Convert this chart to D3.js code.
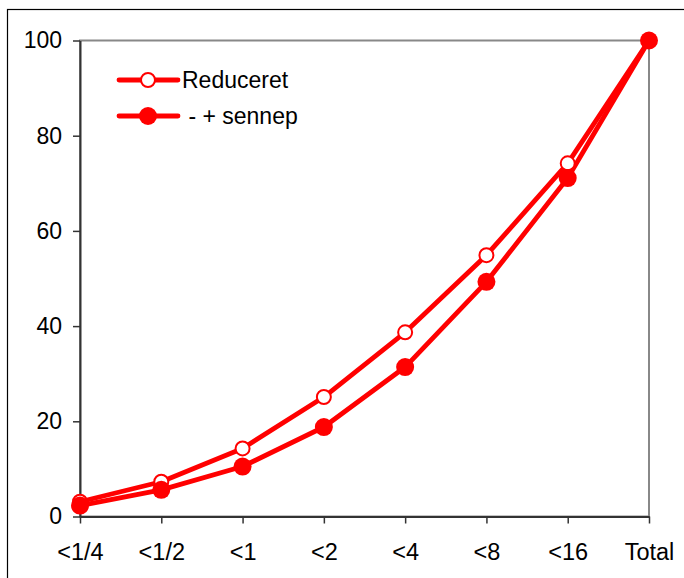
<!DOCTYPE html>
<html>
<head>
<meta charset="utf-8">
<script src="https://cdn.jsdelivr.net/npm/d3@7"></script>
<style>
  body { margin: 0; background: #fff; }
  text { font-family: "Liberation Sans", Arial, sans-serif; }
</style>
</head>
<body>
<div class="chart"></div>
<script>
const categories = ["<1/4", "<1/2", "<1", "<2", "<4", "<8", "<16", "Total"];
const reduceret = [3.1, 7.3, 14.3, 25.1, 38.7, 54.9, 74.2, 100];
const sennep = [2.3, 5.6, 10.5, 18.8, 31.4, 49.3, 71.1, 100];
const yTicks = [0, 20, 40, 60, 80, 100];

const svgWidth = 684;
const svgHeight = 578;
const plotLeft = 80, plotRight = 649, plotTop = 40.5, plotBottom = 516.5;

let svg = d3.select(".chart")
    .append("svg")
    .attr("width", svgWidth)
    .attr("height", svgHeight)

// outer frame (only top and left visible)
svg.append("rect")
    .attr("x", 7.5)
    .attr("y", 9.5)
    .attr("width", 700)
    .attr("height", 600)
    .style("fill", "none")
    .style("stroke", "#000")
    .style("stroke-width", 1.2)

let xScale = d3.scalePoint()
    .domain(categories)
    .range([plotLeft, plotRight])

let yScale = d3.scaleLinear()
    .domain([0, 100])
    .range([plotBottom, plotTop])

// plot area border
svg.append("rect")
    .attr("x", plotLeft)
    .attr("y", plotTop)
    .attr("width", plotRight - plotLeft)
    .attr("height", plotBottom - plotTop)
    .style("fill", "none")
    .style("stroke", "#888")
    .style("stroke-width", 2)

let xAxis = d3.axisBottom(xScale)
    .tickSize(7)
    .tickSizeOuter(0)
    .tickPadding(20)

let xAxisGroup = svg.append("g")
    .attr("transform", `translate(0, ${plotBottom})`)
    .call(xAxis)
xAxisGroup.select(".domain").style("stroke", "#333").style("stroke-width", 2)
xAxisGroup.selectAll(".tick line").style("stroke", "#333").style("stroke-width", 1.5)
xAxisGroup.selectAll(".tick text")
    .style("font-size", "23.5px")
    .style("font-family", "Liberation Sans, Arial, sans-serif")
    .style("fill", "#000")

let yAxis = d3.axisLeft(yScale)
    .tickValues(yTicks)
    .tickSize(7)
    .tickSizeOuter(0)
    .tickPadding(11)

let yAxisGroup = svg.append("g")
    .attr("transform", `translate(${plotLeft}, 0)`)
    .call(yAxis)
yAxisGroup.select(".domain").style("stroke", "#333").style("stroke-width", 2)
yAxisGroup.selectAll(".tick line").style("stroke", "#333").style("stroke-width", 1.5)
yAxisGroup.selectAll(".tick text")
    .style("font-size", "23px")
    .style("font-family", "Liberation Sans, Arial, sans-serif")
    .style("fill", "#000")

const red = "#ff0000";

let line = d3.line()
    .x((d, i) => xScale(categories[i]))
    .y(d => yScale(d))

const series = [
    {name: "Reduceret", values: reduceret, open: true},
    {name: " - + sennep", values: sennep, open: false}
];

series.forEach(s => {
    svg.append("path")
        .datum(s.values)
        .attr("d", line)
        .style("fill", "none")
        .style("stroke", red)
        .style("stroke-width", 4.8)
        .style("stroke-linejoin", "round")
})

series.forEach(s => {
    svg.selectAll(null)
        .data(s.values)
        .enter()
        .append("circle")
        .attr("cx", (d, i) => xScale(categories[i]))
        .attr("cy", d => yScale(d))
        .attr("r", s.open ? 7 : 9)
        .style("fill", s.open ? "#fff" : red)
        .style("stroke", red)
        .style("stroke-width", s.open ? 2 : 0)
})

// legend
let legend = svg.append("g")
series.forEach((s, i) => {
    let y = 80 + i * 36;
    legend.append("line")
        .attr("x1", 119).attr("x2", 178)
        .attr("y1", y).attr("y2", y)
        .style("stroke", red)
        .style("stroke-width", 4.8)
        .style("stroke-linecap", "round")
    legend.append("circle")
        .attr("cx", 148).attr("cy", y)
        .attr("r", s.open ? 7 : 9)
        .style("fill", s.open ? "#fff" : red)
        .style("stroke", red)
        .style("stroke-width", s.open ? 2 : 0)
    legend.append("text")
        .attr("x", 182)
        .attr("y", y)
        .attr("dy", "0.35em")
        .style("font-size", "23px")
        .style("white-space", "pre")
        .text(s.name)
})
</script>
</body>
</html>
